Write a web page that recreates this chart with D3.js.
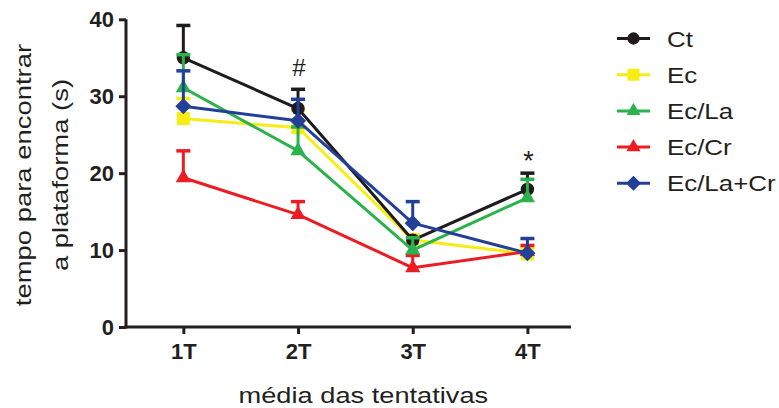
<!DOCTYPE html>
<html>
<head>
<meta charset="utf-8">
<script src="https://cdn.jsdelivr.net/npm/d3@7"></script>
<style>
  html, body { margin: 0; padding: 0; background: #fff; }
  svg { display: block; font-family: Arial, "Liberation Sans", Helvetica, sans-serif; }
  .axis .tick text { font-size: 22px; font-weight: bold; font-family: Arial, "Liberation Sans", Helvetica, sans-serif; }
</style>
</head>
<body>
<svg id="chart" width="779" height="408"></svg>
<script>
// Trial blocks on the x axis
const categories = ["1T", "2T", "3T", "4T"];

// Group names and colours
const groups = ["Ct", "Ec", "Ec/La", "Ec/Cr", "Ec/La+Cr"];
const colors = ["#1f1a1c", "#f7ec13", "#2bb24c", "#ec1c24", "#233f98"];
const shapes = ["circle", "square", "triangle", "triangle", "diamond"];

// Mean latency (s) per group and trial block
const ctMean    = [35.0, 28.4, 11.3, 17.9];
const ecMean    = [27.1, 25.9, 11.3, 9.5];
const ecLaMean  = [31.1, 22.9, 10.0, 16.8];
const ecCrMean  = [19.4, 14.6, 7.7, 9.8];
const ecLaCrMean = [28.7, 26.8, 13.5, 9.6];

// Upper end of the error bars (mean + SEM)
const ctUpper    = [39.2, 30.9, 11.3, 20.0];
const ecUpper    = [29.7, 28.2, 12.0, 10.2];
const ecLaUpper  = [35.4, 26.0, 11.6, 19.2];
const ecCrUpper  = [22.9, 16.3, 9.3, 10.6];
const ecLaCrUpper = [33.3, 29.6, 16.3, 11.5];

// Y axis ticks
const yTicks = [0, 10, 20, 30, 40];

// Significance marks
const marks = [{ cat: "2T", label: "#", value: 32.6 }, { cat: "4T", label: "*", value: 20.4 }];

const means = [ctMean, ecMean, ecLaMean, ecCrMean, ecLaCrMean];
const uppers = [ctUpper, ecUpper, ecLaUpper, ecCrUpper, ecLaCrUpper];

const series = groups.map((g, i) => ({
  name: g, color: colors[i], shape: shapes[i],
  points: categories.map((c, j) => ({ cat: c, idx: j, mean: means[i][j], upper: uppers[i][j] }))
}));

const svg = d3.select("#chart");
const axisColor = "#231f20";
// the regular lettering is set slightly wide
const labelStretch = 1.15, titleStretch = 1.21;

const x = d3.scaleLinear().domain([-0.5, 3.38]).range([126, 571]);
const y = d3.scaleLinear().domain([0, 40]).range([327, 19.3]);

// Y axis
const yAxis = svg.append("g")
  .attr("class", "axis")
  .attr("transform", "translate(126,0)")
  .call(d3.axisLeft(y).tickValues(yTicks).tickSize(7).tickPadding(5).tickFormat(d3.format("d")));
yAxis.attr("font-size", null);
yAxis.select(".domain").attr("stroke", axisColor).attr("stroke-width", 3).attr("d", `M0,${y(40)}V${y(0) + 1.5}`);
yAxis.selectAll(".tick line").attr("stroke", axisColor).attr("stroke-width", 3);
yAxis.selectAll(".tick text").attr("fill", axisColor);

// X axis
const xAxis = svg.append("g")
  .attr("class", "axis")
  .attr("transform", `translate(0,${y(0)})`)
  .call(d3.axisBottom(x).tickValues(categories.map((c, i) => i)).tickSize(7).tickPadding(9.5)
    .tickFormat(i => categories[i]));
xAxis.attr("font-size", null);
xAxis.select(".domain").attr("stroke", axisColor).attr("stroke-width", 3).attr("d", `M${126 - 1.5},0H571`);
xAxis.selectAll(".tick line").attr("stroke", axisColor).attr("stroke-width", 3);
xAxis.selectAll(".tick text").attr("fill", axisColor);

// Axis titles
svg.append("text")
  .attr("transform", `translate(${x(1.5) + 8},403) scale(${titleStretch},1)`)
  .attr("text-anchor", "middle").style("font-size", "22.5px").attr("fill", axisColor)
  .text("média das tentativas");

const yTitle = svg.append("g").attr("transform", "translate(0,175) rotate(-90)");
[["tempo para encontrar", 30.5], ["a plataforma (s)", 67.5]].forEach(([t, off]) => {
  yTitle.append("text")
    .attr("transform", `translate(0,${off}) scale(${titleStretch + 0.01},1)`)
    .attr("text-anchor", "middle").style("font-size", "22.5px").attr("fill", axisColor)
    .text(t);
});

// Marker drawing
function symbolPath(shape, scale) {
  const s = scale || 1;
  if (shape === "circle") return d3.symbol(d3.symbolCircle, 140 * s)();
  if (shape === "square") return d3.symbol(d3.symbolSquare, 170 * s)();
  if (shape === "triangle") return d3.symbol(d3.symbolTriangle, 100 * s)();
  return d3.symbol(d3.symbolSquare, 130 * s)();
}
function symbolRotate(shape) { return shape === "diamond" ? " rotate(45)" : ""; }

// Draw order: yellow, black, red, green, blue on top
const drawOrder = [1, 0, 3, 2, 4];
const line = d3.line().x(d => x(d.idx)).y(d => y(d.mean));

drawOrder.forEach(i => {
  const s = series[i];
  const g = svg.append("g").attr("class", "series");
  // error bars
  g.selectAll("line.err").data(s.points).join("line")
    .attr("class", "err")
    .attr("x1", d => x(d.idx)).attr("x2", d => x(d.idx))
    .attr("y1", d => y(d.mean)).attr("y2", d => y(d.upper))
    .attr("stroke", s.color).attr("stroke-width", 3);
  g.selectAll("line.cap").data(s.points.filter(d => d.upper > d.mean + 0.05)).join("line")
    .attr("class", "cap")
    .attr("x1", d => x(d.idx) - 7).attr("x2", d => x(d.idx) + 7)
    .attr("y1", d => y(d.upper)).attr("y2", d => y(d.upper))
    .attr("stroke", s.color).attr("stroke-width", 3.5);
  // line
  g.append("path").datum(s.points)
    .attr("d", line).attr("fill", "none")
    .attr("stroke", s.color).attr("stroke-width", 3).attr("stroke-linejoin", "round");
  // markers
  g.selectAll("path.mk").data(s.points).join("path")
    .attr("class", "mk")
    .attr("transform", d => `translate(${x(d.idx)},${y(d.mean)})${symbolRotate(s.shape)}`)
    .attr("d", symbolPath(s.shape))
    .attr("fill", s.color);
});

// Significance labels
svg.selectAll("text.sig").data(marks).join("text")
  .attr("class", "sig")
  .attr("x", d => x(categories.indexOf(d.cat)) + 1)
  .attr("y", d => y(d.value))
  .attr("text-anchor", "middle").style("font-size", d => d.label === "*" ? "27px" : "24px")
  .attr("fill", axisColor)
  .text(d => d.label);

// Legend
const legend = svg.append("g").attr("transform", "translate(617,38.5)");
const rows = legend.selectAll("g").data(series).join("g")
  .attr("transform", (d, i) => `translate(0,${i * 36.2})`);
rows.append("line").attr("x1", 0).attr("x2", 33).attr("y1", 0).attr("y2", 0)
  .attr("stroke", d => d.color).attr("stroke-width", 3);
rows.append("path")
  .attr("transform", d => `translate(16.5,0)${symbolRotate(d.shape)}`)
  .attr("d", d => symbolPath(d.shape, 0.85))
  .attr("fill", d => d.color);
rows.append("text")
  .attr("transform", `translate(50,8) scale(${labelStretch},1)`)
  .style("font-size", "22.5px").attr("fill", axisColor)
  .text(d => d.name);
</script>
</body>
</html>
